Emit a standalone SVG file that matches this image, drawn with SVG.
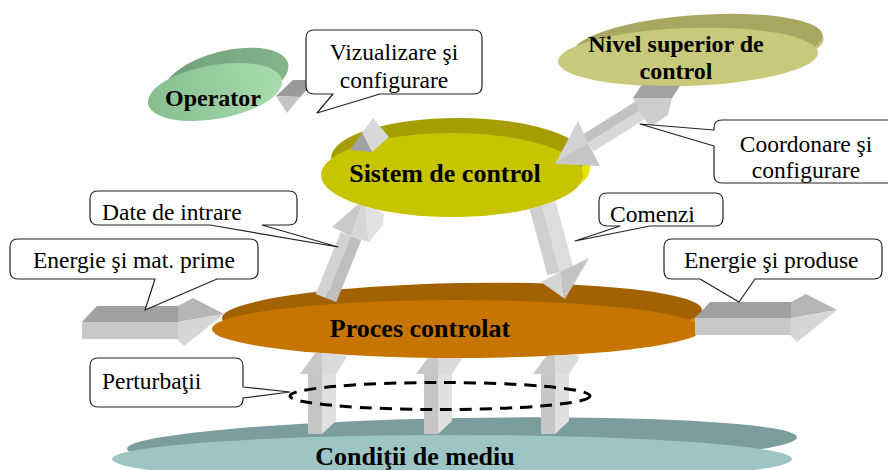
<svg xmlns="http://www.w3.org/2000/svg" width="888" height="470" viewBox="0 0 888 470" font-family="'Liberation Serif', 'Times New Roman', serif">
  <style>
    .lbl { font-size: 23.5px; fill: #000; }
    .ttl { font-weight: bold; text-anchor: middle; fill: #000; }
    .call { fill: #fff; stroke: #222; stroke-width: 1.2; stroke-linejoin: round; }
  </style>
  <defs>
    <linearGradient id="gOp" x1="0" y1="0" x2="1" y2="0">
      <stop offset="0" stop-color="#86be8f"/>
      <stop offset="1" stop-color="#a8dcae"/>
    </linearGradient>
    <linearGradient id="gOpRim" x1="0" y1="0" x2="1" y2="0">
      <stop offset="0" stop-color="#6f9f79"/>
      <stop offset="1" stop-color="#84b48c"/>
    </linearGradient>
    <!-- everything except the front faces of the discs, for arrows that pass behind them -->
    <clipPath id="behindDiscs">
      <path clip-rule="evenodd" d="M-10,-10H900V480H-10Z
        M321,175 A131,42 0 1,0 583,175 A131,42 0 1,0 321,175Z
        M212,329 A245,29 0 1,0 702,329 A245,29 0 1,0 212,329Z
        M558,61 A130,29 -2 1,0 818,52 A130,29 -2 1,0 558,61Z"/>
    </clipPath>
  </defs>

  <!-- environment disc -->
  <g id="node-conditii">
    <ellipse cx="462" cy="443" rx="335" ry="25" fill="#7b9d9b" transform="rotate(-1 462 443)"/>
    <ellipse cx="452" cy="459" rx="340" ry="24" fill="#9cc5c4"/>
    <text class="ttl" x="415" y="465" font-size="26" font-family="Liberation Serif, serif">Condiţii de mediu</text>
  </g>

  <!-- controlled process disc -->
  <g id="node-proces">
    <ellipse cx="466" cy="320" rx="240" ry="30" fill="#e38d00" transform="rotate(-1 466 320)"/>
    <ellipse cx="462" cy="314" rx="240" ry="31" fill="#a26200" transform="rotate(-1 462 314)"/>
    <ellipse cx="457" cy="329" rx="245" ry="29" fill="#c67600"/>
    <text class="ttl" x="420" y="337" font-size="26" font-family="Liberation Serif, serif">Proces controlat</text>
  </g>

  <!-- control system disc -->
  <g id="node-sistem">
    <ellipse cx="462" cy="168" rx="128" ry="42" fill="#e4e300"/>
    <ellipse cx="458" cy="158" rx="127" ry="40" fill="#a69e00"/>
    <ellipse cx="452" cy="175" rx="131" ry="42" fill="#c8c400"/>
    <text class="ttl" x="445" y="182" font-size="26" font-family="Liberation Serif, serif">Sistem de control</text>
  </g>

  <!-- upper control level disc -->
  <g id="node-nivel">
    <ellipse cx="700" cy="47" rx="124" ry="29" fill="#c4c484" transform="rotate(-4 700 47)"/>
    <ellipse cx="698" cy="44" rx="125" ry="29" fill="#a7a762" transform="rotate(-4 698 44)"/>
    <ellipse cx="688" cy="57" rx="130" ry="29" fill="#c9c97b" transform="rotate(-2 688 57)"/>
    <text class="ttl" x="676" y="52" font-size="24" font-family="Liberation Serif, serif">Nivel superior de</text>
    <text class="ttl" x="676" y="79" font-size="24" font-family="Liberation Serif, serif">control</text>
  </g>

  <!-- operator disc -->
  <g id="node-operator">
    <ellipse cx="226" cy="79" rx="64" ry="28" fill="url(#gOpRim)" transform="rotate(-14 226 79)"/>
    <ellipse cx="215" cy="92" rx="68" ry="27" fill="url(#gOp)" transform="rotate(-10 215 92)"/>
    <text class="ttl" x="213" y="106" font-size="24" font-family="Liberation Serif, serif">Operator</text>
  </g>

  <!-- block arrows between the levels -->
  <g id="connectors">
    <!-- raw materials in -->
    <g id="arrow-in">
      <polygon points="82,322 97,306 190,306 180,322" fill="#a0a0a0"/>
      <polygon points="82,322 180,322 180,339 82,339" fill="#c8c8c8"/>
      <polygon points="178,306 193,298 224,314 178,322" fill="#b6b6b6"/>
      <polygon points="178,322 224,314 184,346 178,340" fill="#d6d6d6"/>
    </g>
    <!-- products out -->
    <g id="arrow-out" transform="translate(613,-4)">
      <polygon points="82,322 97,306 190,306 180,322" fill="#a0a0a0"/>
      <polygon points="82,322 180,322 180,339 82,339" fill="#c8c8c8"/>
      <polygon points="178,306 193,298 224,314 178,322" fill="#b6b6b6"/>
      <polygon points="178,322 224,314 184,346 178,340" fill="#d6d6d6"/>
    </g>
    <!-- input data: process to control system -->
    <g id="arrow-date" clip-path="url(#behindDiscs)">
      <polygon points="315.7,293.9 340.7,231.9 351,236 326,298" fill="#d2d2d2"/>
      <polygon points="326,298 351,236 361.3,240.1 336.3,302.1" fill="#bfbfbf"/>
      <polygon points="332,227 364,199 351,236" fill="#cacaca"/>
      <polygon points="351,236 364,199 369,242" fill="#d6d6d6"/>
      <polygon points="364,202 384,214 383,225 369,242" fill="#e2e2e2"/>
    </g>
    <!-- commands: control system to process -->
    <g id="arrow-comenzi" clip-path="url(#behindDiscs)">
      <polygon points="525.4,193.3 538,190 560,272 547.4,275.3" fill="#cfcfcf"/>
      <polygon points="538,190 551.6,186.4 573.6,268.4 560,272" fill="#dddddd"/>
      <polygon points="541,282 560,272 565,299" fill="#d6d6d6"/>
      <polygon points="560,272 589,258 565,299" fill="#c4c4c4"/>
    </g>
    <!-- coordination: upper level to control system -->
    <g id="arrow-coord">
      <polygon points="582.7,134.5 646.7,94.5 652,103 588,143" fill="#c2c2c2"/>
      <polygon points="588,143 652,103 657.3,111.5 593.3,151.5" fill="#d8d8d8"/>
      <polygon points="578,121 588,143 555,164" fill="#d2d2d2"/>
      <polygon points="588,143 600,166 555,164" fill="#c6c6c6"/>
      <g clip-path="url(#behindDiscs)">
        <polygon points="633,98 645,80 684,80 672,98" fill="#a2a2a2"/>
        <polygon points="633,98 672,98 668,115 650,127 640,112" fill="#cdcdcd"/>
      </g>
    </g>
    <!-- operator / control system exchange -->
    <g id="arrow-operator">
      <polygon points="276,96 293,80 316,80 300,97" fill="#9a9a9a"/>
      <polygon points="276,96 300,97 287,113" fill="#c4c4c4"/>
      <polygon points="300,97 316,80 287,113" fill="#dedede"/>
    </g>
    <g id="arrow-sistem">
      <polygon points="362,133 373,118 389,137 372,152" fill="#d8d8d8"/>
      <polygon points="350,150 362,133 372,152" fill="#a2a2a2"/>
    </g>
    <!-- disturbances from the environment -->
    <g id="arrows-perturbatii" clip-path="url(#behindDiscs)">
      <g transform="translate(322,0)">
        <polygon points="-14,434 -14,373 0,373 0,434" fill="#c6c6c6"/>
        <polygon points="0,434 0,373 14,373 14,421" fill="#e0e0e0"/>
        <polygon points="-22,374 0,344 0,374" fill="#c8c8c8"/>
        <polygon points="0,374 0,344 25,357 14,374" fill="#dadada"/>
      </g>
      <g transform="translate(438,0)">
        <polygon points="-14,434 -14,373 0,373 0,434" fill="#c6c6c6"/>
        <polygon points="0,434 0,373 14,373 14,421" fill="#e0e0e0"/>
        <polygon points="-22,374 0,344 0,374" fill="#c8c8c8"/>
        <polygon points="0,374 0,344 25,357 14,374" fill="#dadada"/>
      </g>
      <g transform="translate(555,0)">
        <polygon points="-14,434 -14,373 0,373 0,434" fill="#c6c6c6"/>
        <polygon points="0,434 0,373 14,373 14,421" fill="#e0e0e0"/>
        <polygon points="-22,374 0,344 0,374" fill="#c8c8c8"/>
        <polygon points="0,374 0,344 25,357 14,374" fill="#dadada"/>
      </g>
    </g>
    <ellipse id="perturbatii-ring" cx="440" cy="396" rx="150" ry="13.5" fill="none" stroke="#000" stroke-width="3" stroke-dasharray="12 8"/>
  </g>

  <!-- speech-bubble labels -->
  <g id="label-vizualizare">
    <path class="call" d="M314,30 H474 Q482,30 482,38 V86 Q482,94 474,94 H380 L317,113 L333,94 H314 Q306,94 306,86 V38 Q306,30 314,30 Z"/>
    <text class="lbl" x="394" y="60" text-anchor="middle" font-family="Liberation Serif, serif">Vizualizare şi</text>
    <text class="lbl" x="394" y="88" text-anchor="middle" font-family="Liberation Serif, serif">configurare</text>
  </g>
  <g id="label-coordonare">
    <path class="call" d="M722,120 H900 V183 H722 Q714,183 714,175 V146 L640,124 L714,130 V128 Q714,120 722,120 Z"/>
    <text class="lbl" x="806" y="152" text-anchor="middle" font-family="Liberation Serif, serif">Coordonare şi</text>
    <text class="lbl" x="806" y="178" text-anchor="middle" font-family="Liberation Serif, serif">configurare</text>
  </g>
  <g id="label-date">
    <path class="call" d="M98,191 H289 Q297,191 297,199 V217 Q297,225 289,225 H262 L338,247 L210,225 H98 Q90,225 90,217 V199 Q90,191 98,191 Z"/>
    <text class="lbl" x="102" y="220" font-family="Liberation Serif, serif">Date de intrare</text>
  </g>
  <g id="label-energie-in">
    <path class="call" d="M18,239 H250 Q258,239 258,247 V271 Q258,279 250,279 H217 L145,310 L155,279 H18 Q10,279 10,271 V247 Q10,239 18,239 Z"/>
    <text class="lbl" x="33" y="268" font-family="Liberation Serif, serif">Energie şi mat. prime</text>
  </g>
  <g id="label-comenzi">
    <path class="call" d="M607,193 H715 Q723,193 723,201 V218 Q723,226 715,226 H650 L575,241 L620,226 H607 Q599,226 599,218 V201 Q599,193 607,193 Z"/>
    <text class="lbl" x="610" y="222" font-family="Liberation Serif, serif">Comenzi</text>
  </g>
  <g id="label-energie-out">
    <path class="call" d="M672,239 H874 Q882,239 882,247 V271 Q882,279 874,279 H755 L739,302 L700,279 H672 Q664,279 664,271 V247 Q664,239 672,239 Z"/>
    <text class="lbl" x="684" y="268" font-family="Liberation Serif, serif">Energie şi produse</text>
  </g>
  <g id="label-perturbatii">
    <path class="call" d="M98,358 H235 Q243,358 243,366 V387 L290,392 L243,398 V399 Q243,407 235,407 H98 Q90,407 90,399 V366 Q90,358 98,358 Z"/>
    <text class="lbl" x="102" y="389" font-family="Liberation Serif, serif">Perturbaţii</text>
  </g>
</svg>
